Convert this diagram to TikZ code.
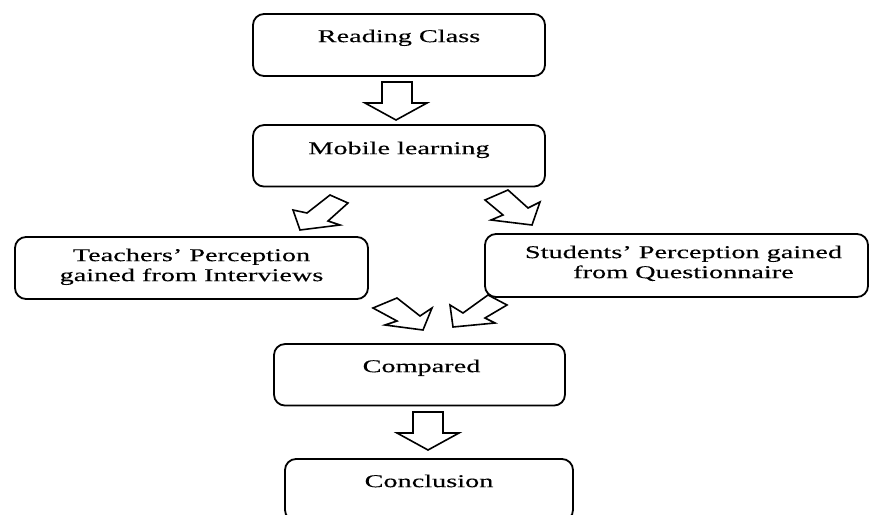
\documentclass[tikz,border=0pt]{standalone}
\usepackage{fontspec}
\setmainfont{Liberation Serif}[FakeStretch=1.57, FakeBold=0.3]
\usetikzlibrary{positioning}

\begin{document}
\begin{tikzpicture}[x=1pt, y=-1pt]
       \tikzstyle{stagebox}=[draw, line width=1.8pt, rounded corners=11pt, inner sep=0pt]
       \tikzstyle{stagetext}=[font=\fontsize{18pt}{20pt}\selectfont, align=center, inner sep=0pt, anchor=base]
       \tikzstyle{fatarrow}=[draw, line width=1.6pt, fill=white, line join=miter]
       \clip (0,0) rectangle (870,514);
       \node[stagebox, minimum width=292pt, minimum height=62pt] (reading) at (399,45) {};
       \node[stagebox, minimum width=292pt, minimum height=61.5pt] (mobile) at (399,155.8) {};
       \node[stagebox, minimum width=353pt, minimum height=62pt] (teachers) at (191.5,268) {};
       \node[stagebox, minimum width=383pt, minimum height=63pt] (students) at (676.5,265.5) {};
       \node[stagebox, minimum width=291pt, minimum height=61.5pt] (compared) at (419.5,374.8) {};
       \node[stagebox, minimum width=288pt, minimum height=62pt] (conclusion) at (429,490) {};
       \node[stagetext] (readinglbl) at ([yshift=-29pt]reading.north) {Reading Class};
       \node[stagetext] (mobilelbl) at ([yshift=-30pt]mobile.north) {Mobile learning};
       \node[stagetext] (teacherslbl) at ([yshift=-45pt]teachers.north) {Teachers’ Perception\\gained from Interviews};
       \node[stagetext] (studentslbl) at ([xshift=7pt,yshift=-45pt]students.north) {Students’ Perception gained\\from Questionnaire};
       \node[stagetext] (comparedlbl) at ([xshift=2pt,yshift=-29pt]compared.north) {Compared};
       \node[stagetext] (conclusionlbl) at ([yshift=-29pt]conclusion.north) {Conclusion};
       % block arrows
       \draw[fatarrow] (382,82) -- (412,82) -- (412,103) -- (427,103) -- (396,120) -- (365,103) -- (382,103) -- cycle;
       \draw[fatarrow] (330,195) -- (348,203) -- (328,221) -- (340,225) -- (300,230) -- (293,210) -- (307,213) -- cycle;
       \draw[fatarrow] (508,190) -- (528,208) -- (540,202) -- (532,225) -- (491,220) -- (503,215) -- (485,200) -- cycle;
       \draw[fatarrow] (397,298) -- (420,316) -- (432,308) -- (423,330) -- (385,325) -- (397,321) -- (373,308) -- cycle;
       \draw[fatarrow] (450,305) -- (463,313) -- (488,295) -- (507,305) -- (485,318) -- (495,323) -- (453,327) -- cycle;
       \draw[fatarrow] (413,412) -- (443,412) -- (443,433) -- (459,433) -- (428,450) -- (397,433) -- (413,433) -- cycle;
\end{tikzpicture}
\end{document}
